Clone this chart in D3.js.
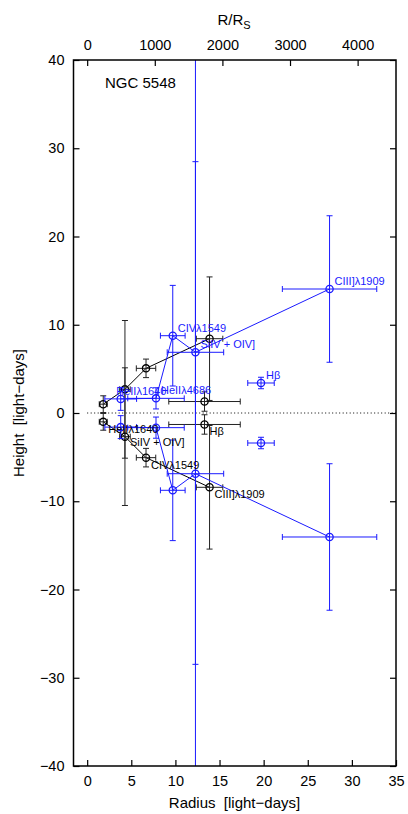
<!DOCTYPE html>
<html>
<head>
<meta charset="utf-8">
<script src="https://cdn.jsdelivr.net/npm/d3@7"></script>
<style>
  html, body { margin: 0; padding: 0; background: #fff; }
  svg { display: block; }
  text { font-family: "Liberation Sans", Arial, Helvetica, sans-serif; fill: #000; }
</style>
</head>
<body>
<svg id="chart" width="408" height="814"></svg>
<script>
// ---------------- data ----------------
const title = "NGC 5548";
const xTicks = [0, 5, 10, 15, 20, 25, 30, 35];
const yTicks = [-40, -30, -20, -10, 0, 10, 20, 30, 40];
const topTicks = [0, 1000, 2000, 3000, 4000];
const rsPerLightDay = 130.5;

// black series (mirrored above and below the plane)
const blackNames = ["HeIIλ1640", "SiIV + OIV]", "CIVλ1549", "Hβ", "CIII]λ1909"];
const blackRadius = [1.82, 4.28, 6.67, 13.3, 13.87];
const blackHeight = [1.0, 2.68, 5.06, 1.3, 8.42];
const blackRadiusErr = [0.45, 0.6, 1.1, 4.05, 1.5];
const blackHeightErrUp = [0.95, 7.8, 1.05, 1.1, 7.0];
const blackHeightErrDown = [0.95, 7.8, 1.05, 1.1, 7.0];
const blackJoined = [true, true, true, false, true];

// blue series
const blueNames = ["HeIIλ1640", "HeIIλ4686", "CIVλ1549", "SiIV + OIV]", "Hβ", "CIII]λ1909"];
const blueRadius = [3.8, 7.8, 9.7, 12.27, 19.7, 27.47];
const blueHeight = [1.6, 1.66, 8.76, 6.88, 3.4, 14.05];
const blueRadiusErr = [1.8, 3.2, 1.4, 3.2, 1.5, 5.35];
const blueHeightErrUp = [1.3, 1.2, 5.7, 21.6, 0.65, 8.3];
const blueHeightErrDown = [1.3, 1.2, 5.7, 60, 0.65, 8.3];
const blueJoined = [true, true, true, true, false, true];

// ---------------- layout ----------------
const L = 73.5, R = 396, T = 60, B = 766;
const svg = d3.select("#chart");
const x = d3.scaleLinear().domain([-1.55, 35]).range([L, R]);
const y = d3.scaleLinear().domain([-40, 40]).range([B, T]);
const xTop = d3.scaleLinear().domain([-1.55 * rsPerLightDay, 35 * rsPerLightDay]).range([L, R]);

const BLUE = "#1a1aff";
const BLACK_ERR = "#222";
const tickFont = "14.5px";

svg.append("defs").append("clipPath").attr("id", "plotclip")
  .append("rect").attr("x", L).attr("y", T).attr("width", R - L).attr("height", B - T);

// axes
const tickLen = 6;
const gB = svg.append("g").attr("transform", `translate(0,${B})`)
  .call(d3.axisBottom(x).tickValues(xTicks).tickSize(-tickLen).tickPadding(10).tickFormat(d3.format("d")));
const gT = svg.append("g").attr("transform", `translate(0,${T})`)
  .call(d3.axisTop(xTop).tickValues(topTicks).tickSize(-tickLen).tickPadding(10).tickFormat(d3.format("d")));
const gL = svg.append("g").attr("transform", `translate(${L},0)`)
  .call(d3.axisLeft(y).tickValues(yTicks).tickSize(-tickLen).tickPadding(10)
    .tickFormat(d => d < 0 ? "\u2212" + Math.abs(d) : String(d)));
const gR = svg.append("g").attr("transform", `translate(${R},0)`)
  .call(d3.axisRight(y).tickValues(yTicks).tickSize(-tickLen).tickFormat(""));
[gB, gT, gL, gR].forEach(g => {
  g.select(".domain").remove();
  g.selectAll(".tick line").attr("stroke", "#000").attr("stroke-width", 1.2);
  g.selectAll(".tick text").style("font-size", tickFont)
    .style("font-family", '"Liberation Sans", Arial, sans-serif').attr("fill", "#000");
});
gL.selectAll(".tick text").attr("x", -9);

// zero line
svg.append("line")
  .attr("x1", x(0)).attr("x2", R).attr("y1", y(0)).attr("y2", y(0))
  .attr("stroke", "#000").attr("stroke-width", 1).attr("stroke-dasharray", "1,2.5");

const plot = svg.append("g").attr("clip-path", "url(#plotclip)");
const labelShift = {};
labelShift["HeIIλ1640|" + BLUE] = [-4.5, -4];
labelShift["SiIV + OIV]|#000"] = [5, 9];

function drawSeries(color, errColor, names, rad, hgt, rErr, hUp, hDown, joined, labelSide) {
  const pts = [];
  names.forEach((n, i) => {
    pts.push({ name: n, r: rad[i], h: hgt[i], re: rErr[i], up: hUp[i], dn: hDown[i], j: joined[i], top: true });
    pts.push({ name: n, r: rad[i], h: -hgt[i], re: rErr[i], up: hDown[i], dn: hUp[i], j: joined[i], top: false });
  });
  const g = plot.append("g");
  // connecting lines
  const line = d3.line().x(d => x(d.r)).y(d => y(d.h));
  [true, false].forEach(top => {
    const seg = pts.filter(p => p.top === top && p.j).sort((a, b) => a.r - b.r);
    g.append("path").attr("d", line(seg)).attr("fill", "none")
      .attr("stroke", color).attr("stroke-width", 1);
  });
  const cap = 3;
  pts.forEach(p => {
    const px = x(p.r), py = y(p.h);
    const x0 = x(p.r - p.re), x1 = x(p.r + p.re);
    const y0 = y(p.h + p.up), y1 = y(p.h - p.dn);
    const e = g.append("g").attr("stroke", errColor).attr("stroke-width", 1).attr("fill", "none");
    e.append("line").attr("x1", x0).attr("x2", x1).attr("y1", py).attr("y2", py);
    e.append("line").attr("x1", x0).attr("x2", x0).attr("y1", py - cap).attr("y2", py + cap);
    e.append("line").attr("x1", x1).attr("x2", x1).attr("y1", py - cap).attr("y2", py + cap);
    e.append("line").attr("x1", px).attr("x2", px).attr("y1", y0).attr("y2", y1);
    e.append("line").attr("x1", px - cap).attr("x2", px + cap).attr("y1", y0).attr("y2", y0);
    e.append("line").attr("x1", px - cap).attr("x2", px + cap).attr("y1", y1).attr("y2", y1);
    g.append("circle").attr("cx", px).attr("cy", py).attr("r", 3.6)
      .attr("fill", "none").attr("stroke", color).attr("stroke-width", 1.3);
  });
  // labels
  const labelG = svg.append("g");
  pts.filter(p => p.top === (labelSide === "top")).forEach(p => {
    const def = labelSide === "top" ? [5, -4] : [5, 11];
    const off = labelShift[p.name + "|" + color] || def;
    labelG.append("text").attr("x", x(p.r) + off[0]).attr("y", y(p.h) + off[1])
      .style("fill", color).style("font-size", "11px").text(p.name);
  });
}

drawSeries("#000", BLACK_ERR, blackNames, blackRadius, blackHeight, blackRadiusErr, blackHeightErrUp, blackHeightErrDown, blackJoined, "bottom");
drawSeries(BLUE, BLUE, blueNames, blueRadius, blueHeight, blueRadiusErr, blueHeightErrUp, blueHeightErrDown, blueJoined, "top");

// frame
svg.append("rect").attr("x", L).attr("y", T).attr("width", R - L).attr("height", B - T)
  .attr("fill", "none").attr("stroke", "#000").attr("stroke-width", 1.5);

// titles
svg.append("text").attr("x", 105).attr("y", 88).style("font-size", "15px").text(title);
svg.append("text").attr("x", 234.5).attr("y", 808).attr("text-anchor", "middle")
  .style("font-size", "15px").text("Radius\u00a0 [light\u2212days]");
svg.append("text").attr("transform", `translate(24,${(T + B) / 2}) rotate(-90)`)
  .attr("text-anchor", "middle").style("font-size", "15px").text("Height\u00a0 [light\u2212days]");
const tt = svg.append("text").attr("x", 234).attr("y", 25).attr("text-anchor", "middle").style("font-size", "15px");
tt.append("tspan").text("R/R");
tt.append("tspan").attr("dy", 4).style("font-size", "11px").text("S");
</script>
</body>
</html>
